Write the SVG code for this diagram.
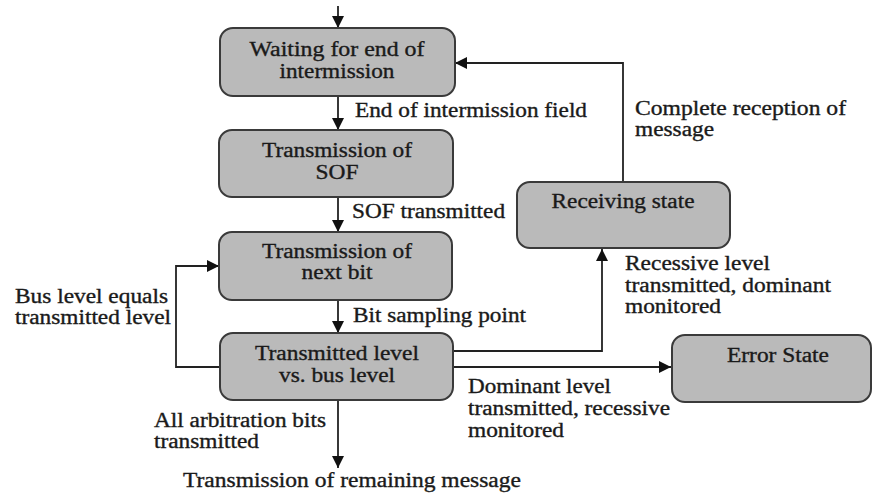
<svg xmlns="http://www.w3.org/2000/svg" width="874" height="496" viewBox="0 0 874 496">
<defs>
<marker id="ah" viewBox="0 0 10 10" refX="10" refY="5" markerWidth="12" markerHeight="12" markerUnits="userSpaceOnUse" orient="auto">
<path d="M0,0 L10,5 L0,10 Z" fill="#111"/>
</marker>
</defs>
<style>
.box{fill:#bababa;stroke:#3a3a3a;stroke-width:2}
.t{font-family:'Liberation Serif','Times New Roman',serif;font-size:20px;fill:#1a1a1a;stroke:#1a1a1a;stroke-width:0.35}
.c{text-anchor:middle}
.ln{fill:none;stroke:#222;stroke-width:1.8;marker-end:url(#ah)}
</style>
<rect width="874" height="496" fill="#fff"/>
<g id="connectors">
<path class="ln" d="M338,6 V28"/>
<path class="ln" d="M338,96 V130"/>
<path class="ln" d="M338,197 V232"/>
<path class="ln" d="M338,300 V333"/>
<path class="ln" d="M338,400 V468"/>
<path class="ln" d="M220,367 H176 V266 H219"/>
<path class="ln" d="M453,351 H602 V249"/>
<path class="ln" d="M453,367 H671"/>
<path class="ln" d="M623,182 V63 H455"/>
</g>
<g id="waiting">
<rect class="box" x="220" y="28" width="235" height="68" rx="13"/>
<text class="t c" x="337" y="56" textLength="175" lengthAdjust="spacingAndGlyphs">Waiting for end of</text>
<text class="t c" x="337" y="78" textLength="115" lengthAdjust="spacingAndGlyphs">intermission</text>
</g>
<g id="sof">
<rect class="box" x="219" y="130" width="234" height="67" rx="13"/>
<text class="t c" x="337" y="157" textLength="150" lengthAdjust="spacingAndGlyphs">Transmission of</text>
<text class="t c" x="337" y="179" textLength="43" lengthAdjust="spacingAndGlyphs">SOF</text>
</g>
<g id="nextbit">
<rect class="box" x="219" y="232" width="233" height="68" rx="13"/>
<text class="t c" x="337" y="258" textLength="150" lengthAdjust="spacingAndGlyphs">Transmission of</text>
<text class="t c" x="337" y="279" textLength="71" lengthAdjust="spacingAndGlyphs">next bit</text>
</g>
<g id="compare">
<rect class="box" x="220" y="333" width="233" height="67" rx="13"/>
<text class="t c" x="337" y="360" textLength="164" lengthAdjust="spacingAndGlyphs">Transmitted level</text>
<text class="t c" x="337" y="382" textLength="116" lengthAdjust="spacingAndGlyphs">vs. bus level</text>
</g>
<g id="receiving">
<rect class="box" x="517" y="182" width="213" height="66" rx="13"/>
<text class="t c" x="623" y="208" textLength="143" lengthAdjust="spacingAndGlyphs">Receiving state</text>
</g>
<g id="error">
<rect class="box" x="672" y="335" width="199" height="67" rx="13"/>
<text class="t c" x="778" y="362" textLength="102" lengthAdjust="spacingAndGlyphs">Error State</text>
</g>
<g id="labels">
<text class="t" x="355" y="117" textLength="232" lengthAdjust="spacingAndGlyphs">End of intermission field</text>
<text class="t" x="352" y="218" textLength="153" lengthAdjust="spacingAndGlyphs">SOF transmitted</text>
<text class="t" x="353" y="322" textLength="173" lengthAdjust="spacingAndGlyphs">Bit sampling point</text>
<text class="t" x="15" y="303" textLength="153" lengthAdjust="spacingAndGlyphs">Bus level equals</text>
<text class="t" x="15" y="324" textLength="156" lengthAdjust="spacingAndGlyphs">transmitted level</text>
<text class="t" x="154" y="427" textLength="172" lengthAdjust="spacingAndGlyphs">All arbitration bits</text>
<text class="t" x="154" y="448" textLength="105" lengthAdjust="spacingAndGlyphs">transmitted</text>
<text class="t" x="183" y="487" textLength="338" lengthAdjust="spacingAndGlyphs">Transmission of remaining message</text>
<text class="t" x="635" y="115" textLength="211" lengthAdjust="spacingAndGlyphs">Complete reception of</text>
<text class="t" x="635" y="136" textLength="79" lengthAdjust="spacingAndGlyphs">message</text>
<text class="t" x="625" y="270" textLength="145" lengthAdjust="spacingAndGlyphs">Recessive level</text>
<text class="t" x="625" y="292" textLength="206" lengthAdjust="spacingAndGlyphs">transmitted, dominant</text>
<text class="t" x="625" y="313" textLength="96" lengthAdjust="spacingAndGlyphs">monitored</text>
<text class="t" x="468" y="393" textLength="143" lengthAdjust="spacingAndGlyphs">Dominant level</text>
<text class="t" x="468" y="415" textLength="202" lengthAdjust="spacingAndGlyphs">transmitted, recessive</text>
<text class="t" x="468" y="437" textLength="96" lengthAdjust="spacingAndGlyphs">monitored</text>
</g>
</svg>
